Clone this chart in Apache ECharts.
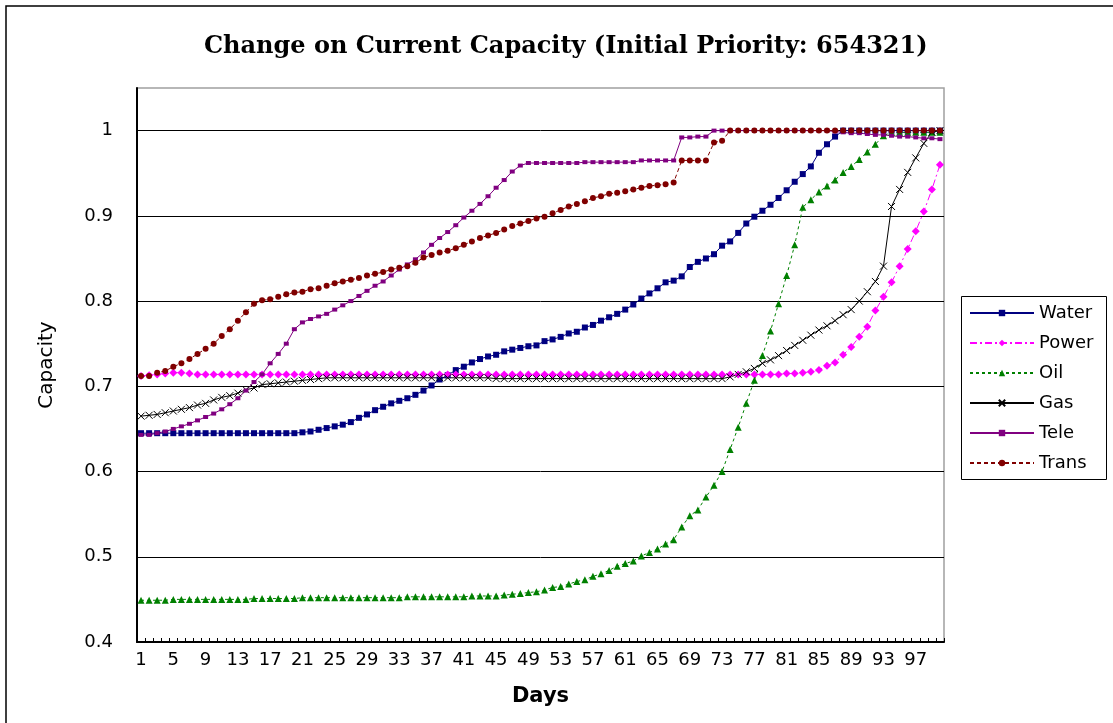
<!DOCTYPE html>
<html>
<head>
<meta charset="utf-8">
<script src="https://cdn.jsdelivr.net/npm/echarts@6/dist/echarts.min.js"></script>
<style>
html,body{margin:0;padding:0;background:#fff;}
#chart{width:1113px;height:723px;}
</style>
</head>
<body>
<div id="chart"></div>
<script>
const days = Array.from({length: 100}, (_, i) => String(i + 1));

const water = [
0.645,0.645,0.645,0.645,0.645,0.645,0.645,0.645,0.645,0.645,
0.645,0.645,0.645,0.645,0.645,0.645,0.645,0.645,0.645,0.645,
0.646,0.647,0.649,0.651,0.653,0.655,0.658,0.663,0.667,0.672,
0.676,0.680,0.683,0.686,0.690,0.695,0.701,0.708,0.713,0.719,
0.723,0.728,0.732,0.735,0.737,0.741,0.743,0.745,0.747,0.748,
0.753,0.755,0.758,0.762,0.764,0.769,0.772,0.777,0.781,0.785,
0.790,0.796,0.803,0.809,0.815,0.822,0.824,0.829,0.840,0.846,
0.850,0.855,0.865,0.870,0.880,0.891,0.899,0.906,0.913,0.921,
0.930,0.940,0.949,0.958,0.974,0.984,0.993,1.000,1.000,1.000,
1.000,1.000,1.000,1.000,1.000,1.000,1.000,1.000,1.000,1.000
];

const power = [
0.712,0.713,0.714,0.715,0.716,0.716,0.715,0.714,0.714,0.714,
0.714,0.714,0.714,0.714,0.714,0.714,0.714,0.714,0.714,0.714,
0.714,0.714,0.714,0.714,0.714,0.714,0.714,0.714,0.714,0.714,
0.714,0.714,0.714,0.714,0.714,0.714,0.714,0.714,0.714,0.714,
0.714,0.714,0.714,0.714,0.714,0.714,0.714,0.714,0.714,0.714,
0.714,0.714,0.714,0.714,0.714,0.714,0.714,0.714,0.714,0.714,
0.714,0.714,0.714,0.714,0.714,0.714,0.714,0.714,0.714,0.714,
0.714,0.714,0.714,0.714,0.714,0.714,0.714,0.714,0.714,0.714,
0.715,0.715,0.716,0.717,0.719,0.724,0.728,0.737,0.746,0.758,
0.770,0.789,0.805,0.822,0.841,0.861,0.882,0.905,0.931,0.960
];

const oil = [
0.449,0.449,0.449,0.449,0.450,0.450,0.450,0.450,0.450,0.450,
0.450,0.450,0.450,0.450,0.451,0.451,0.451,0.451,0.451,0.451,
0.452,0.452,0.452,0.452,0.452,0.452,0.452,0.452,0.452,0.452,
0.452,0.452,0.452,0.453,0.453,0.453,0.453,0.453,0.453,0.453,
0.453,0.454,0.454,0.454,0.454,0.455,0.456,0.457,0.458,0.459,
0.461,0.464,0.465,0.468,0.471,0.473,0.477,0.480,0.484,0.489,
0.492,0.495,0.501,0.505,0.509,0.515,0.520,0.535,0.548,0.555,
0.570,0.584,0.600,0.626,0.652,0.680,0.707,0.736,0.765,0.797,
0.830,0.866,0.910,0.919,0.928,0.935,0.942,0.951,0.958,0.966,
0.975,0.984,0.994,0.998,0.998,0.998,0.998,0.998,0.998,0.998
];

const gas = [
0.665,0.666,0.667,0.669,0.671,0.673,0.675,0.678,0.680,0.684,
0.687,0.689,0.692,0.696,0.698,0.702,0.703,0.704,0.705,0.706,
0.707,0.708,0.709,0.710,0.710,0.710,0.710,0.710,0.710,0.710,
0.710,0.710,0.710,0.710,0.710,0.710,0.710,0.710,0.710,0.710,
0.710,0.710,0.710,0.710,0.709,0.709,0.709,0.709,0.709,0.709,
0.709,0.709,0.709,0.709,0.709,0.709,0.709,0.709,0.709,0.709,
0.709,0.709,0.709,0.709,0.709,0.709,0.709,0.709,0.709,0.709,
0.709,0.709,0.709,0.711,0.714,0.717,0.721,0.727,0.731,0.736,
0.742,0.748,0.754,0.760,0.766,0.771,0.777,0.784,0.790,0.800,
0.811,0.823,0.841,0.911,0.931,0.951,0.968,0.985,0.998,1.000
];

const tele = [
0.643,0.643,0.645,0.647,0.650,0.653,0.656,0.660,0.664,0.668,
0.673,0.679,0.686,0.695,0.705,0.714,0.727,0.738,0.750,0.767,
0.775,0.779,0.782,0.785,0.790,0.795,0.800,0.806,0.812,0.818,
0.823,0.830,0.837,0.843,0.849,0.857,0.866,0.874,0.881,0.889,
0.898,0.906,0.914,0.923,0.933,0.942,0.952,0.959,0.962,0.962,
0.962,0.962,0.962,0.962,0.962,0.963,0.963,0.963,0.963,0.963,
0.963,0.963,0.965,0.965,0.965,0.965,0.965,0.992,0.992,0.993,
0.993,1.000,1.000,1.000,1.000,1.000,1.000,1.000,1.000,1.000,
1.000,1.000,1.000,1.000,1.000,1.000,0.999,0.998,0.997,0.997,
0.996,0.995,0.995,0.994,0.993,0.993,0.992,0.991,0.991,0.990
];

const trans = [
0.712,0.712,0.716,0.718,0.723,0.727,0.732,0.738,0.744,0.750,
0.759,0.767,0.777,0.787,0.797,0.801,0.802,0.805,0.808,0.810,
0.811,0.814,0.815,0.818,0.821,0.823,0.825,0.827,0.830,0.832,
0.834,0.837,0.839,0.841,0.845,0.851,0.854,0.857,0.859,0.862,
0.866,0.870,0.874,0.877,0.880,0.884,0.888,0.891,0.894,0.897,
0.899,0.903,0.907,0.911,0.914,0.917,0.921,0.923,0.926,0.927,
0.929,0.931,0.933,0.935,0.936,0.937,0.939,0.965,0.965,0.965,
0.965,0.986,0.988,1.000,1.000,1.000,1.000,1.000,1.000,1.000,
1.000,1.000,1.000,1.000,1.000,1.000,1.000,1.000,1.000,1.000,
1.000,1.000,1.000,1.000,1.000,1.000,1.000,1.000,1.000,1.000
];

const seriesNames = ['Water','Power','Oil','Gas','Tele','Trans'];
const titleText = 'Change on Current Capacity (Initial Priority: 654321)';
const xName = 'Days';
const yName = 'Capacity';

const chart = echarts.init(document.getElementById('chart'), null, {renderer: 'canvas'});

const FONT = 'DejaVu Sans';

function mk(name, data, color, symbol, size, lineType, extraItem) {
  return {
    name: name,
    type: 'line',
    data: data,
    symbol: symbol,
    symbolSize: size,
    showSymbol: true,
    showAllSymbol: true,
    animation: false,
    lineStyle: {color: color, width: 1, type: lineType},
    itemStyle: Object.assign({color: color, borderColor: color, borderWidth: 0}, extraItem || {}),
    emphasis: {disabled: true}
  };
}

const option = {
  animation: false,
  backgroundColor: '#ffffff',
  title: {
    text: titleText,
    left: 204,
    top: 35,
    padding: 0,
    textStyle: {fontFamily: 'DejaVu Serif', fontWeight: 'bold', fontSize: 24, color: '#000'}
  },
  grid: {
    left: 137, right: 169, top: 88, bottom: 81,
    show: true, borderColor: '#a0a0a0', borderWidth: 1.5, backgroundColor: 'transparent'
  },
  legend: {
    orient: 'vertical',
    left: 969,
    top: 298,
    padding: 0,
    itemWidth: 64,
    itemHeight: 8,
    itemGap: 0,
    textStyle: {fontFamily: FONT, fontSize: 18, color: '#000', lineHeight: 30},
    data: seriesNames
  },
  xAxis: {
    type: 'category',
    data: days,
    boundaryGap: true,
    name: xName,
    nameLocation: 'middle',
    nameGap: 44,
    nameTextStyle: {fontFamily: FONT, fontWeight: 'bold', fontSize: 21, color: '#000'},
    axisLine: {lineStyle: {color: '#000', width: 2}},
    axisTick: {show: true, inside: true, length: 4, interval: 0, lineStyle: {color: '#000', width: 1}},
    axisLabel: {interval: 3, fontFamily: FONT, fontSize: 18, color: '#000', margin: 9},
    splitLine: {show: false}
  },
  yAxis: {
    type: 'value',
    min: 0.4,
    max: 1.05,
    interval: 0.1,
    name: yName,
    nameLocation: 'middle',
    nameRotate: 90,
    nameGap: 80,
    nameTextStyle: {fontFamily: FONT, fontSize: 20, color: '#000'},
    axisLine: {show: true, lineStyle: {color: '#000', width: 2}},
    axisTick: {show: false},
    axisLabel: {
      fontFamily: FONT, fontSize: 18, color: '#000', margin: 24,
      showMaxLabel: false,
      formatter: function (v) { return v > 1.001 ? '' : String(Math.round(v * 10) / 10); }
    },
    splitLine: {show: true, showMinLine: false, showMaxLine: false, lineStyle: {color: '#000', width: 1}}
  },
  graphic: [
    {type: 'rect', shape: {x: 6, y: 6, width: 1200, height: 800}, style: {fill: 'none', stroke: '#000', lineWidth: 1.5}, silent: true, z: -10},
    {type: 'rect', shape: {x: 961.5, y: 296.5, width: 145, height: 183}, style: {fill: 'none', stroke: '#000', lineWidth: 1}, silent: true}
  ],
  series: [
    mk('Water', water, '#000080', 'rect', 6, 'solid'),
    mk('Power', power, '#ff00ff', 'diamond', 8, [7, 3, 2, 3]),
    mk('Oil', oil, '#008000', 'triangle', 7, [3, 3]),
    mk('Gas', gas, '#000000', 'path://M0,0L10,10M10,0L0,10', 7, 'solid', {color: 'transparent', borderColor: '#000', borderWidth: 1}),
    mk('Tele', tele, '#800080', 'rect', [5, 4], 'solid'),
    mk('Trans', trans, '#800000', 'circle', 6, [4, 3])
  ]
};

chart.setOption(option);
</script>
</body>
</html>
